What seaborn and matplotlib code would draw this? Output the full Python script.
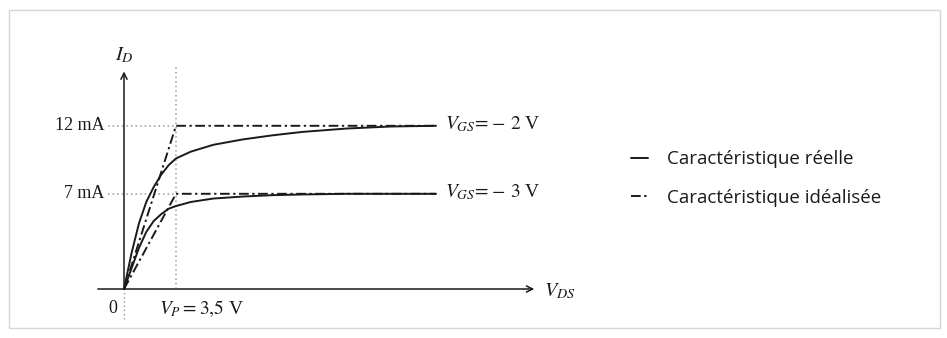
import matplotlib
matplotlib.use("Agg")
import matplotlib.pyplot as plt
import matplotlib.patches as mpatches
import seaborn as sns
import pandas as pd

# ---- data (V_DS in volts, I_D in mA) ----
vds_real = [0, 0.5, 1.0, 1.5, 2.0, 2.5, 3.0, 3.5, 4.5, 6, 8, 10, 12, 15, 18, 21]
id_real_vgs_m2 = [0, 2.6, 4.8, 6.4, 7.5, 8.4, 9.1, 9.6, 10.1, 10.6, 11.0, 11.3, 11.55, 11.8, 11.95, 12.0]
id_real_vgs_m3 = [0, 1.5, 3.0, 4.2, 5.0, 5.5, 5.9, 6.1, 6.4, 6.65, 6.8, 6.9, 6.95, 7.0, 7.0, 7.0]
vds_ideal = [0, 3.5, 21]
id_ideal_vgs_m2 = [0, 12, 12]
id_ideal_vgs_m3 = [0, 7, 7]
vp = 3.5
ytick_vals = [12, 7]
ytick_labels = ["12 mA", "7 mA"]
vgs_labels = [r"$V_{GS}\!=\!-\,2$ V", r"$V_{GS}\!=\!-\,3$ V"]
legend_labels = ["Caractéristique réelle", "Caractéristique idéalisée"]

sns.set_theme(style="white")
plt.rcParams["font.family"] = ["Liberation Serif", "DejaVu Serif"]
plt.rcParams["mathtext.fontset"] = "stix"

W, H = 947, 338
fig = plt.figure(figsize=(W / 100, H / 100), dpi=100)
ax = fig.add_axes([0, 0, 1, 1])
ax.set_axis_off()

# pixel mapping of the drawing: origin at (124, 289) px
ox, oy, sx, sy = 124, 289, 14.857, 13.6
ax.set_xlim(-ox / sx, (W - ox) / sx)
ax.set_ylim(-(H - oy) / sy, oy / sy)

ink = "#1a1a1a"
guide = "#9a9a9a"

real = pd.DataFrame({"vds": vds_real * 2,
                     "id": id_real_vgs_m2 + id_real_vgs_m3,
                     "vgs": ["-2"] * len(vds_real) + ["-3"] * len(vds_real)})
ideal = pd.DataFrame({"vds": vds_ideal * 2,
                      "id": id_ideal_vgs_m2 + id_ideal_vgs_m3,
                      "vgs": ["-2"] * len(vds_ideal) + ["-3"] * len(vds_ideal)})

# guides
for yv in ytick_vals:
    ax.plot([-1.1, vp], [yv, yv], ls=(0, (1, 2)), color=guide, lw=1.1, zorder=1)
ax.plot([vp, vp], [0, 16.4], ls=(0, (1, 2)), color=guide, lw=1.1, zorder=1)
ax.plot([0, 0], [-2.2, 0], ls=(0, (1, 2)), color=guide, lw=1.0, zorder=1)

# axes arrows
ax.annotate("", xy=(27.8, 0), xytext=(-1.95, 0),
            arrowprops=dict(arrowstyle="->", lw=1.1, color=ink, mutation_scale=11))
ax.annotate("", xy=(0, 16.2), xytext=(0, 0),
            arrowprops=dict(arrowstyle="->", lw=1.1, color=ink, mutation_scale=11))

# curves
for i, (g, d) in enumerate(real.groupby("vgs")):
    sns.lineplot(data=d, x="vds", y="id", ax=ax, color=ink, lw=1.4, sort=False,
                 estimator=None, label=legend_labels[0] if i == 0 else None, legend=False)
for i, (g, d) in enumerate(ideal.groupby("vgs")):
    sns.lineplot(data=d, x="vds", y="id", ax=ax, color=ink, lw=1.4, sort=False,
                 estimator=None, label=legend_labels[1] if i == 0 else None, legend=False)
for l in ax.lines[-2:]:
    l.set_linestyle((0, (5, 1.8, 1.2, 1.8)))

# text labels
fs = 13
for yv, lab in zip(ytick_vals, ytick_labels):
    ax.text(-1.3, yv, lab, ha="right", va="center", fontsize=fs, color=ink)
for yv, lab in zip(ytick_vals, vgs_labels):
    ax.text(21.6, yv + 0.1, lab, ha="left", va="center", fontsize=fs + 1, color=ink)
ax.text(0, 17.2, r"$I_D$", ha="center", va="center", fontsize=fs + 1.5, color=ink)
ax.text(28.3, -0.2, r"$V_{DS}$", ha="left", va="center", fontsize=fs + 1.5, color=ink)
ax.text(-0.75, -1.45, "0", ha="center", va="center", fontsize=fs, color=ink)
ax.text(5.2, -1.45, r"$V_P = 3{,}5$ V", ha="center", va="center", fontsize=fs + 1, color=ink)

# legend
handles = [ax.lines[-4], ax.lines[-2]]
leg = ax.legend(handles, legend_labels, loc="center left",
                bbox_to_anchor=(614 / W, 1 - 178.5 / H), bbox_transform=fig.transFigure,
                frameon=False, handlelength=0.9, handletextpad=1.0, labelspacing=1.1,
                prop={"family": "Open Sans", "size": 13.5})
for t in leg.get_texts():
    t.set_color(ink)

# scan border
fig.patches.append(mpatches.Rectangle((9 / W, 10 / H), 931 / W, 318 / H,
                                      transform=fig.transFigure, fill=False,
                                      ec="#d6d6d6", lw=1.0))

fig.savefig("out.png", dpi=100, facecolor="white")
